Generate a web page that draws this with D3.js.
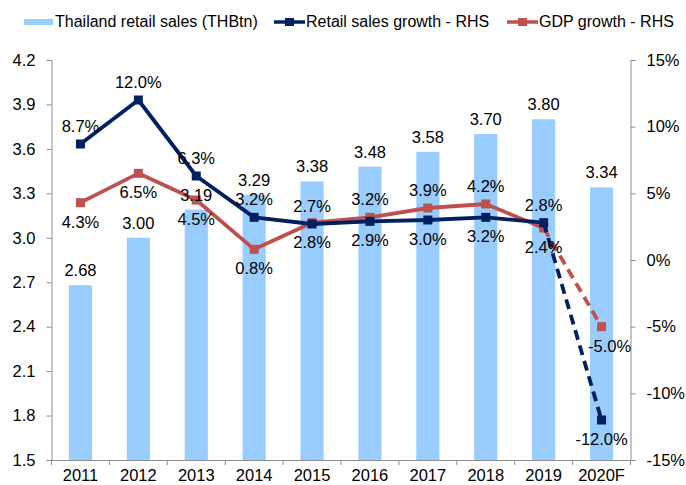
<!DOCTYPE html>
<html>
<head>
<meta charset="utf-8">
<script src="https://cdn.jsdelivr.net/npm/d3@7"></script>
<style>
html,body{margin:0;padding:0;background:#fff;}
svg{display:block;font-family:"Liberation Sans",Arial,sans-serif;}
</style>
</head>
<body>
<svg id="chart" width="686" height="485"></svg>
<script>
const categories = ["2011","2012","2013","2014","2015","2016","2017","2018","2019","2020F"];
const retailSales = [2.68,3.00,3.19,3.29,3.38,3.48,3.58,3.70,3.80,3.34];
const retailGrowth = [8.7,12.0,6.3,3.2,2.7,2.9,3.0,3.2,2.8,-12.0];
const gdpGrowth = [4.3,6.5,4.5,0.8,2.8,3.2,3.9,4.2,2.4,-5.0];
const leftTicks = [1.5,1.8,2.1,2.4,2.7,3.0,3.3,3.6,3.9,4.2];
const rightTicks = [-15,-10,-5,0,5,10,15];
const seriesNames = ["Thailand retail sales (THBtn)","Retail sales growth - RHS","GDP growth - RHS"];

// label placement (above / below)
const retailLabelPos = ["a","a","a","a","a","b","b","b","a","b"];
const gdpLabelPos = ["b","b","b","b","b","a","a","a","b","b"];

const C_BAR = "#99CCFF", C_NAVY = "#002060", C_RED = "#C0504D", C_AXIS = "#8c8c8c";

const svg = d3.select("#chart");
const m = {l:51.5, r:630.5, t:60, b:460};

const x = d3.scaleBand().domain(categories).range([m.l, m.r]).paddingInner(0.6).paddingOuter(0.3);
const xc = d => x(d) + x.bandwidth()/2;
const yL = d3.scaleLinear().domain([1.5,4.2]).range([m.b, m.t]);
const yR = d3.scaleLinear().domain([-15,15]).range([m.b, m.t]);

// bars
svg.append("g").selectAll("rect").data(retailSales).join("rect")
  .attr("x", (d,i) => x(categories[i]))
  .attr("width", x.bandwidth())
  .attr("y", d => yL(d))
  .attr("height", d => m.b - yL(d))
  .attr("fill", C_BAR);

// axes
const fs = "16.5px";
const gL = svg.append("g").attr("transform", `translate(${m.l},0)`)
  .call(d3.axisLeft(yL).tickValues(leftTicks).tickFormat(d3.format(".1f")).tickSize(5).tickPadding(11));
const gR = svg.append("g").attr("transform", `translate(${m.r},0)`)
  .call(d3.axisRight(yR).tickValues(rightTicks).tickFormat(d => d + "%").tickSize(5).tickPadding(11));
const gB = svg.append("g").attr("transform", `translate(0,${m.b})`)
  .call(d3.axisBottom(x).tickSize(0).tickPadding(9));
// bottom tick marks at category boundaries
const step = x.step();
const bounds = d3.range(categories.length + 1).map(i => m.l + i * step);
svg.append("g").selectAll("line").data(bounds).join("line")
  .attr("x1", d => d).attr("x2", d => d)
  .attr("y1", m.b).attr("y2", m.b + 5)
  .attr("stroke", C_AXIS).attr("stroke-width", 1);

[gL, gR, gB].forEach(g => {
  g.select(".domain").attr("stroke", C_AXIS);
  g.selectAll(".tick line").attr("stroke", C_AXIS);
  g.selectAll("text").attr("fill", "#000").style("font-size", fs)
   .style("font-family", '"Liberation Sans",Arial,sans-serif');
});
gB.select(".domain").attr("d", `M${m.l},0.5H${m.r}`);

// lines
function drawSeries(vals, color) {
  const pts = vals.map((v,i) => [xc(categories[i]), yR(v)]);
  const line = d3.line();
  svg.append("path").attr("d", line(pts.slice(0, pts.length-1)))
    .attr("fill","none").attr("stroke",color).attr("stroke-width",3.8).attr("stroke-linejoin","round");
  svg.append("path").attr("d", line(pts.slice(pts.length-2)))
    .attr("fill","none").attr("stroke",color).attr("stroke-width",3.8).attr("stroke-dasharray","10,6");
  svg.append("g").selectAll("rect").data(pts).join("rect")
    .attr("x", d => d[0]-4.5).attr("y", d => d[1]-4.5)
    .attr("width", 9).attr("height", 9).attr("fill", color);
}
drawSeries(gdpGrowth, C_RED);
drawSeries(retailGrowth, C_NAVY);

// labels
const lab = svg.append("g").style("font-size", fs).attr("text-anchor","middle").attr("fill","#000");
lab.selectAll("text.bar").data(retailSales).join("text").attr("class","bar")
  .attr("x", (d,i) => xc(categories[i]))
  .attr("y", d => yL(d) - 9)
  .text(d => d.toFixed(2));
function pctLabels(vals, pos, cls) {
  lab.selectAll("text."+cls).data(vals).join("text").attr("class", cls)
    .attr("x", (d,i) => xc(categories[i]) + (i === vals.length-1 && cls === "gdp" ? 8 : 0))
    .attr("y", (d,i) => yR(d) + (pos[i] === "a" ? -12 : 25))
    .text(d => d.toFixed(1) + "%");
}
pctLabels(retailGrowth, retailLabelPos, "ret");
pctLabels(gdpGrowth, gdpLabelPos, "gdp");

// legend
const lg = svg.append("g").style("font-size","16px");
lg.append("rect").attr("x",24).attr("y",19).attr("width",29).attr("height",6).attr("fill",C_BAR);
lg.append("text").attr("x",55).attr("y",27).text(seriesNames[0]);
[[274, C_NAVY, seriesNames[1]], [507, C_RED, seriesNames[2]]].forEach(([lx, col, name]) => {
  lg.append("line").attr("x1",lx).attr("x2",lx+31).attr("y1",22).attr("y2",22)
    .attr("stroke",col).attr("stroke-width",3.5);
  lg.append("rect").attr("x",lx+11).attr("y",18).attr("width",9).attr("height",8).attr("fill",col);
  lg.append("text").attr("x",lx+32).attr("y",27).text(name);
});
</script>
</body>
</html>
